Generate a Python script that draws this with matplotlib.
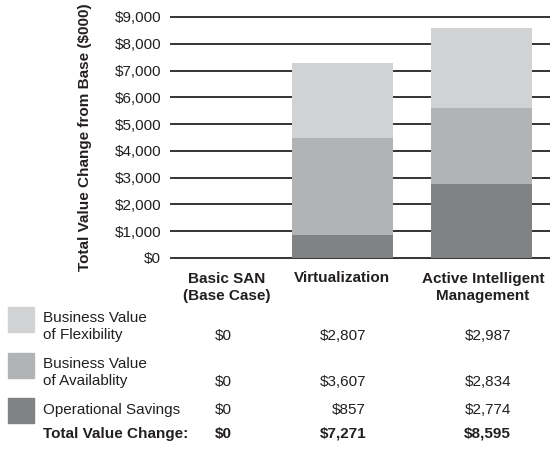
import matplotlib.pyplot as plt
from matplotlib.patches import Rectangle

# 数据
categories = ['Basic SAN\n(Base Case)', 'Virtualization', 'Active Intelligent\nManagement']
series_labels = ['Business Value\nof Flexibility', 'Business Value\nof Availablity', 'Operational Savings']
flexibility = [0, 2807, 2987]
availability = [0, 3607, 2834]
operational = [0, 857, 2774]
yticks = [0, 1000, 2000, 3000, 4000, 5000, 6000, 7000, 8000, 9000]

colors = ['#d1d2d4', '#b2b3b5', '#818284']  # flexibility, availability, operational
text_color = '#231f20'
W, H = 550, 450

plt.rcParams['font.family'] = ['Liberation Sans', 'DejaVu Sans']
plt.rcParams['font.size'] = 11

fig = plt.figure(figsize=(5.5, 4.5), dpi=100)
ax = fig.add_axes([171 / W, 1 - 258 / H, 1 - 171 / W, (258 - 17) / H])

# 堆叠柱状图
x = range(len(categories))
ax.bar(x, operational, width=0.73, color=colors[2], zorder=2, linewidth=0)
ax.bar(x, availability, width=0.73, bottom=operational, color=colors[1], zorder=2, linewidth=0)
bottom2 = [a + b for a, b in zip(operational, availability)]
ax.bar(x, flexibility, width=0.73, bottom=bottom2, color=colors[0], zorder=2, linewidth=0)

for t in yticks:
    ax.axhline(t, color='#333333', lw=1.4, zorder=1, clip_on=False)

ax.set_xlim(-0.234, 2.493)
ax.set_ylim(0, 9000)
ax.set_yticks(yticks)
ax.set_yticklabels([f'${v:,}' for v in yticks], color=text_color)
ax.tick_params(axis='y', length=0, pad=7)
ax.set_xticks([])
for s in ax.spines.values():
    s.set_visible(False)
ax.set_ylabel('Total Value Change from Base ($000)', fontweight='bold', color=text_color, labelpad=16.5)


def fx(px):
    return px / W


def fy(py):
    return 1 - py / H


# 表头
header_x = [227, 342, 483]
for cx, cat in zip(header_x, categories):
    fig.text(fx(cx), fy(287.5 if '\n' in cat else 278), cat, ha='center', va='center',
             fontweight='bold', color=text_color, multialignment='center')

# 表格
totals = [a + b + c for a, b, c in zip(flexibility, availability, operational)]
rows = [flexibility, availability, operational]
label_y = [326.5, 372.5, 410]
value_y = [336, 382, 410]
swatch_y = [(307, 332), (353, 378), (398, 423)]
col_right = [232, 366, 511]

for i, (lab, vals) in enumerate(zip(series_labels, rows)):
    y0, y1 = swatch_y[i]
    fig.patches.append(Rectangle((fx(8), fy(y1)), fx(34) - fx(8), fy(y0) - fy(y1),
                                 transform=fig.transFigure, color=colors[i], figure=fig))
    fig.text(fx(43), fy(label_y[i]), lab, ha='left', va='center', color=text_color)
    for cx, v in zip(col_right, vals):
        fig.text(fx(cx), fy(value_y[i]), f'${v:,}', ha='right', va='center', color=text_color)

fig.text(fx(43), fy(434), 'Total Value Change:', ha='left', va='center', fontweight='bold', color=text_color)
for cx, v in zip(col_right, totals):
    fig.text(fx(cx), fy(434), f'${v:,}', ha='right', va='center', fontweight='bold', color=text_color)

fig.savefig('out.png', dpi=100)
